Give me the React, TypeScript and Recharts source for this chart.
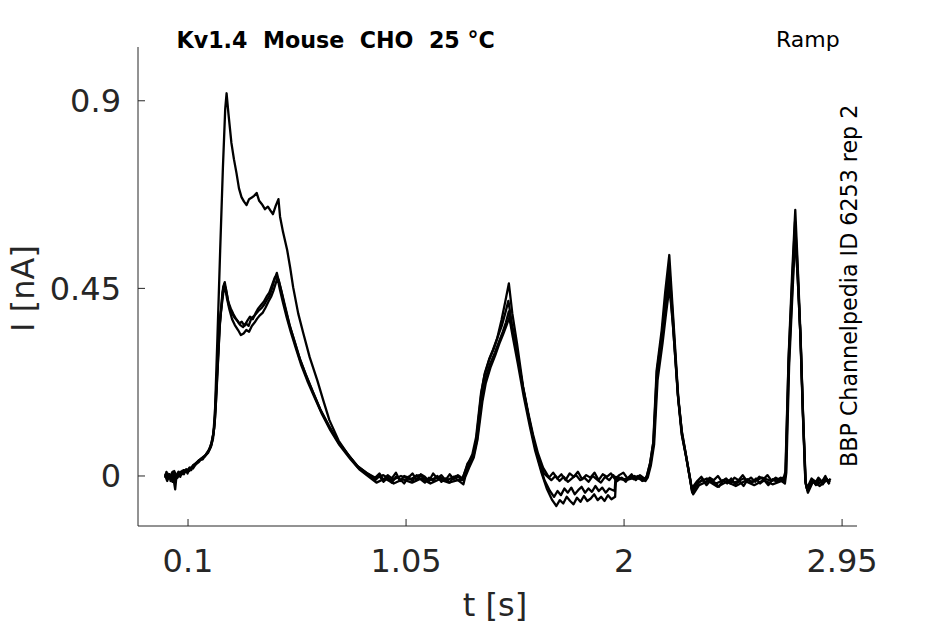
import React from "react";
import { LineChart, Line, XAxis, YAxis } from "recharts";

// Time axis ticks [s] and current axis ticks [nA]
const xTicks = [0.1, 1.05, 2, 2.95];
const yTicks = [0, 0.45, 0.9];
const xTickLabels = ["0.1", "1.05", "2", "2.95"];
const yTickLabels = ["0", "0.45", "0.9"];

// Sweep 1 (largest first response), [t (s), I (nA)]
const sweep1: [number, number][] = [
[0.000,-0.004],[0.006,0.010],[0.012,-0.006],[0.018,0.004],[0.024,-0.012],[0.030,0.008],[0.036,-0.004],[0.044,-0.032],[0.050,0.002],[0.058,0.010],[0.066,-0.002],[0.074,0.012],[0.082,0.004],[0.090,0.014],[0.098,0.006],[0.106,0.020],[0.114,0.014],[0.122,0.026],[0.132,0.030],[0.146,0.036],[0.160,0.042],[0.174,0.048],[0.188,0.056],[0.200,0.070],[0.209,0.090],[0.216,0.130],[0.228,0.330],[0.240,0.540],[0.252,0.740],[0.262,0.880],[0.268,0.918],[0.276,0.870],[0.289,0.799],[0.300,0.760],[0.311,0.727],[0.322,0.690],[0.333,0.669],[0.344,0.658],[0.355,0.650],[0.366,0.664],[0.378,0.668],[0.388,0.672],[0.399,0.679],[0.410,0.660],[0.422,0.652],[0.435,0.640],[0.448,0.646],[0.460,0.636],[0.470,0.628],[0.482,0.648],[0.494,0.664],[0.501,0.622],[0.514,0.585],[0.532,0.542],[0.545,0.500],[0.558,0.453],[0.580,0.390],[0.602,0.343],[0.630,0.285],[0.663,0.230],[0.690,0.180],[0.716,0.134],[0.756,0.085],[0.804,0.046],[0.841,0.022],[0.879,0.007],
[0.916,-0.004],[0.934,0.006],[0.952,-0.010],[0.970,0.002],[0.988,-0.006],[1.006,0.008],[1.024,-0.012],[1.042,0.000],[1.060,-0.004],[1.078,0.006],[1.096,-0.010],[1.114,0.004],[1.132,-0.002],[1.150,-0.012],[1.168,0.006],[1.186,-0.006],[1.204,0.002],[1.222,-0.010],[1.240,0.004],[1.258,-0.008],[1.276,0.002],[1.296,-0.006],
[1.303,0.004],[1.318,0.030],[1.341,0.046],[1.356,0.086],[1.378,0.198],[1.393,0.246],[1.412,0.280],[1.428,0.302],[1.447,0.330],[1.466,0.374],[1.483,0.420],[1.498,0.462],[1.513,0.390],[1.533,0.320],[1.560,0.214],[1.583,0.150],[1.603,0.100],[1.625,0.054],[1.647,0.020],
[1.673,-0.004],[1.691,0.008],[1.709,-0.006],[1.727,0.004],[1.745,-0.010],[1.763,0.006],[1.781,-0.002],[1.799,0.010],[1.817,-0.008],[1.835,0.002],[1.853,-0.004],[1.871,0.008],[1.889,-0.010],[1.907,0.004],[1.925,-0.002],[1.943,0.006],[1.961,-0.008],[1.979,0.002],[1.997,0.008],[2.015,-0.006],[2.033,0.004],[2.051,-0.010],[2.069,0.002],[2.088,-0.006],
[2.098,-0.004],[2.113,0.030],[2.127,0.079],[2.142,0.254],[2.164,0.350],[2.179,0.440],[2.197,0.530],[2.214,0.382],[2.236,0.190],[2.251,0.110],[2.266,0.062],[2.289,-0.010],[2.295,-0.030],
[2.319,-0.012],[2.337,-0.002],[2.355,-0.016],[2.373,-0.004],[2.391,-0.010],[2.409,0.000],[2.427,-0.014],[2.445,-0.006],[2.463,-0.018],[2.481,-0.004],[2.499,-0.010],[2.517,0.002],[2.535,-0.012],[2.553,-0.004],[2.571,-0.014],[2.589,-0.002],[2.607,-0.008],[2.625,0.002],[2.643,-0.012],[2.661,-0.004],[2.679,-0.010],[2.697,-0.002],
[2.703,0.010],[2.717,0.286],[2.732,0.480],[2.746,0.638],[2.757,0.500],[2.768,0.350],[2.779,0.160],[2.790,-0.010],[2.797,-0.030],
[2.817,-0.006],[2.832,-0.018],[2.847,-0.004],[2.862,-0.014],[2.877,0.000],[2.890,-0.016],[2.899,-0.006]
];

const sweep2: [number, number][] = [
[0.000,0.006],[0.010,-0.008],[0.020,0.004],[0.032,-0.014],[0.042,0.008],[0.054,-0.004],[0.066,0.010],[0.078,0.006],[0.092,0.016],[0.106,0.012],[0.120,0.024],[0.134,0.028],[0.148,0.034],[0.162,0.044],[0.176,0.050],[0.190,0.060],[0.202,0.075],[0.212,0.105],[0.218,0.140],[0.224,0.199],[0.238,0.357],[0.253,0.453],[0.260,0.465],[0.268,0.440],[0.278,0.410],[0.290,0.392],[0.302,0.380],[0.316,0.372],[0.328,0.362],[0.340,0.357],[0.352,0.366],[0.364,0.360],[0.376,0.378],[0.388,0.384],[0.399,0.391],[0.410,0.398],[0.422,0.404],[0.433,0.412],[0.443,0.422],[0.455,0.432],[0.466,0.450],[0.476,0.470],[0.487,0.487],[0.498,0.462],[0.509,0.439],[0.527,0.398],[0.545,0.357],[0.567,0.318],[0.589,0.278],[0.617,0.238],[0.646,0.199],[0.680,0.155],[0.716,0.118],[0.756,0.080],[0.804,0.046],[0.841,0.020],[0.879,0.005],
[0.916,-0.010],[0.934,0.000],[0.952,-0.014],[0.970,-0.004],[0.988,-0.016],[1.006,-0.002],[1.024,-0.008],[1.042,-0.018],[1.060,-0.002],[1.078,-0.012],[1.096,0.002],[1.114,-0.008],[1.132,-0.016],[1.150,-0.004],[1.168,-0.012],[1.186,0.000],[1.204,-0.014],[1.222,-0.006],[1.240,-0.016],[1.258,-0.002],[1.276,-0.010],[1.298,-0.010],
[1.305,-0.002],[1.323,0.024],[1.343,0.046],[1.359,0.086],[1.381,0.190],[1.395,0.232],[1.417,0.270],[1.437,0.296],[1.455,0.322],[1.471,0.345],[1.485,0.368],[1.498,0.395],[1.513,0.350],[1.535,0.290],[1.560,0.210],[1.585,0.140],[1.607,0.082],[1.629,0.036],[1.651,0.006],
[1.683,-0.010],[1.701,0.000],[1.719,-0.012],[1.737,-0.002],[1.755,-0.014],[1.773,-0.006],[1.791,0.002],[1.809,-0.010],[1.827,-0.004],[1.845,-0.014],[1.863,0.000],[1.881,-0.008],[1.899,-0.016],[1.917,-0.002],[1.935,-0.010],[1.953,0.002],[1.971,-0.012],[1.989,-0.004],[2.007,-0.014],[2.025,-0.002],[2.043,-0.008],[2.061,0.000],[2.079,-0.012],[2.090,-0.010],
[2.101,-0.002],[2.115,0.028],[2.129,0.080],[2.144,0.240],[2.166,0.330],[2.181,0.400],[2.196,0.470],[2.211,0.380],[2.234,0.196],[2.251,0.100],[2.269,0.050],[2.291,-0.020],[2.297,-0.040],
[2.323,-0.018],[2.341,-0.008],[2.359,-0.022],[2.377,-0.010],[2.395,-0.016],[2.413,-0.026],[2.431,-0.010],[2.449,-0.018],[2.467,-0.006],[2.485,-0.020],[2.503,-0.012],[2.521,-0.024],[2.539,-0.008],[2.557,-0.016],[2.575,-0.006],[2.593,-0.018],[2.611,-0.010],[2.629,-0.022],[2.647,-0.008],[2.665,-0.014],[2.683,-0.004],[2.699,-0.012],
[2.705,0.010],[2.718,0.270],[2.733,0.450],[2.745,0.590],[2.757,0.470],[2.769,0.330],[2.780,0.140],[2.791,-0.016],[2.799,-0.034],[2.821,-0.010],[2.836,-0.022],[2.851,-0.008],[2.866,-0.020],[2.881,-0.006],[2.897,-0.016]
];

const sweep3: [number, number][] = [
[0.000,-0.002],[0.011,0.006],[0.022,-0.006],[0.033,0.010],[0.044,-0.010],[0.056,0.004],[0.068,0.002],[0.080,0.014],[0.094,0.010],[0.108,0.020],[0.122,0.018],[0.136,0.030],[0.150,0.038],[0.164,0.040],[0.178,0.052],[0.192,0.064],[0.204,0.082],[0.214,0.115],[0.220,0.160],[0.227,0.240],[0.240,0.380],[0.254,0.440],[0.262,0.452],[0.270,0.425],[0.280,0.400],[0.292,0.376],[0.304,0.362],[0.318,0.350],[0.330,0.338],[0.342,0.342],[0.354,0.350],[0.366,0.346],[0.378,0.360],[0.390,0.368],[0.402,0.378],[0.414,0.386],[0.426,0.392],[0.438,0.404],[0.450,0.418],[0.462,0.430],[0.472,0.444],[0.482,0.462],[0.490,0.475],[0.500,0.448],[0.512,0.420],[0.530,0.380],[0.548,0.345],[0.570,0.306],[0.592,0.268],[0.620,0.228],[0.650,0.190],[0.684,0.148],[0.720,0.110],[0.760,0.074],[0.808,0.040],[0.846,0.016],[0.884,0.000],[0.921,-0.016],[0.958,-0.006],[0.996,-0.018],[1.036,-0.008],[1.076,-0.016],[1.116,-0.006],[1.156,-0.018],[1.196,-0.008],[1.236,-0.016],[1.276,-0.010],[1.300,-0.020],
[1.307,-0.004],[1.325,0.020],[1.345,0.044],[1.361,0.086],[1.383,0.180],[1.397,0.222],[1.419,0.262],[1.439,0.290],[1.457,0.318],[1.473,0.340],[1.487,0.360],[1.500,0.380],[1.515,0.334],[1.537,0.270],[1.563,0.190],[1.589,0.120],[1.613,0.060],[1.639,0.010],[1.663,-0.030],[1.687,-0.058],
[1.705,-0.072],[1.720,-0.058],[1.735,-0.066],[1.750,-0.050],[1.765,-0.060],[1.780,-0.068],[1.795,-0.052],[1.810,-0.062],[1.825,-0.048],[1.840,-0.060],[1.855,-0.054],[1.870,-0.044],[1.885,-0.058],[1.900,-0.050],[1.915,-0.060],[1.930,-0.046],[1.945,-0.056],[1.961,-0.050],
[1.965,-0.006],[2.007,-0.010],[2.049,-0.004],[2.093,-0.012],
[2.103,-0.004],[2.117,0.026],[2.131,0.076],[2.146,0.230],[2.168,0.320],[2.183,0.390],[2.198,0.455],[2.213,0.360],[2.237,0.180],[2.253,0.096],[2.271,0.044],[2.293,-0.024],[2.301,-0.044],[2.327,-0.022],[2.367,-0.012],[2.407,-0.026],[2.447,-0.014],[2.487,-0.024],[2.527,-0.012],[2.567,-0.022],[2.607,-0.010],[2.647,-0.020],[2.687,-0.012],[2.701,-0.018],
[2.707,0.008],[2.719,0.260],[2.734,0.440],[2.746,0.580],[2.758,0.460],[2.770,0.320],[2.781,0.130],[2.792,-0.020],[2.801,-0.040],[2.823,-0.014],[2.853,-0.024],[2.883,-0.010],[2.895,-0.020]
];

const sweep4: [number, number][] = [
[0.000,0.002],[0.009,-0.012],[0.019,0.002],[0.029,-0.006],[0.040,0.012],[0.050,-0.006],[0.062,0.006],[0.074,0.004],[0.088,0.014],[0.102,0.016],[0.116,0.020],[0.130,0.026],[0.144,0.036],[0.158,0.042],[0.172,0.046],[0.186,0.056],[0.198,0.070],[0.210,0.100],[0.217,0.150],[0.223,0.210],[0.236,0.350],[0.250,0.440],[0.258,0.460],[0.265,0.448],[0.274,0.420],[0.286,0.402],[0.298,0.388],[0.310,0.376],[0.322,0.366],[0.334,0.370],[0.346,0.360],[0.358,0.372],[0.370,0.382],[0.382,0.376],[0.394,0.390],[0.406,0.402],[0.418,0.410],[0.430,0.418],[0.442,0.430],[0.454,0.440],[0.466,0.458],[0.478,0.476],[0.485,0.480],[0.495,0.470],[0.506,0.445],[0.522,0.405],[0.540,0.366],[0.562,0.326],[0.584,0.286],[0.612,0.244],[0.642,0.204],[0.676,0.160],[0.712,0.122],[0.752,0.084],[0.800,0.050],[0.838,0.024],[0.876,0.008],[0.914,-0.006],[0.951,0.002],[0.988,-0.010],[1.028,0.000],[1.068,-0.008],[1.108,0.002],[1.148,-0.012],[1.188,-0.002],[1.228,-0.010],[1.268,0.000],[1.294,-0.008],
[1.301,0.002],[1.319,0.028],[1.339,0.052],[1.355,0.092],[1.377,0.200],[1.391,0.240],[1.413,0.280],[1.433,0.306],[1.451,0.336],[1.467,0.360],[1.482,0.390],[1.496,0.420],[1.511,0.366],[1.533,0.300],[1.558,0.218],[1.583,0.145],[1.607,0.084],[1.631,0.030],[1.653,-0.010],[1.677,-0.036],
[1.695,-0.050],[1.710,-0.036],[1.725,-0.046],[1.740,-0.030],[1.755,-0.040],[1.770,-0.028],[1.785,-0.044],[1.800,-0.034],[1.815,-0.026],[1.830,-0.040],[1.845,-0.030],[1.860,-0.038],[1.875,-0.024],[1.890,-0.036],[1.905,-0.028],[1.920,-0.040],[1.935,-0.030],[1.959,-0.036],
[1.963,-0.002],[2.005,-0.008],[2.045,0.000],[2.089,-0.008],
[2.099,0.000],[2.114,0.032],[2.128,0.082],[2.143,0.250],[2.165,0.340],[2.180,0.420],[2.197,0.500],[2.212,0.384],[2.235,0.192],[2.252,0.104],[2.268,0.056],[2.290,-0.014],[2.296,-0.036],[2.321,-0.016],[2.361,-0.006],[2.401,-0.018],[2.441,-0.008],[2.481,-0.016],[2.521,-0.006],[2.561,-0.014],[2.601,-0.004],[2.641,-0.012],[2.681,-0.006],[2.698,-0.010],
[2.704,0.012],[2.717,0.280],[2.732,0.460],[2.745,0.610],[2.757,0.490],[2.768,0.340],[2.779,0.150],[2.790,-0.014],[2.798,-0.032],[2.819,-0.008],[2.849,-0.018],[2.879,-0.006],[2.898,-0.014]
];

const sweeps = [sweep1, sweep2, sweep3, sweep4];

const toPoints = (arr: [number, number][]) => arr.map(([t, i]) => ({ t, i }));

const FONT = "'DejaVu Sans', sans-serif";
const AXIS = "#262626";

export default function App() {
  const W = 945;
  const H = 624;
  return (
    <div style={{ position: "absolute", left: 0, top: 0, width: W, height: H, background: "#fff" }}>
      <LineChart
        width={W}
        height={H}
        margin={{ top: 47, right: 88, bottom: 0, left: 0 }}
        style={{ fontFamily: FONT }}
      >
        <XAxis
          type="number"
          dataKey="t"
          domain={[-0.118, 3.015]}
          ticks={xTicks}
          tickFormatter={(v: number) => xTickLabels[xTicks.indexOf(v)] ?? String(v)}
          interval={0}
          allowDataOverflow
          height={98}
          stroke={AXIS}
          tickSize={-7}
          tickMargin={30}
          tick={{ fill: AXIS, fontSize: 32, fontFamily: FONT }}
        />
        <YAxis
          type="number"
          domain={[-0.12, 1.029]}
          ticks={yTicks}
          tickFormatter={(v: number) => yTickLabels[yTicks.indexOf(v)] ?? String(v)}
          interval={0}
          allowDataOverflow
          width={138}
          stroke={AXIS}
          tickSize={-7}
          tickMargin={24}
          tick={{ fill: AXIS, fontSize: 32, fontFamily: FONT }}
        />
        {sweeps.map((s, k) => (
          <Line
            key={k}
            data={toPoints(s)}
            dataKey="i"
            type="linear"
            stroke="#000"
            strokeWidth={2.3}
            strokeLinejoin="round"
            dot={false}
            activeDot={false}
            isAnimationActive={false}
          />
        ))}
      </LineChart>
      <svg
        width={W}
        height={H}
        style={{ position: "absolute", left: 0, top: 0, pointerEvents: "none" }}
      >
        <text x={176.5} y={48} fontFamily={FONT} fontWeight="bold" fontSize={22.2} fill="#000">
          Kv1.4{"\u00a0\u00a0"}Mouse{"\u00a0\u00a0"}CHO{"\u00a0\u00a0"}25 °C
        </text>
        <text x={776} y={47} fontFamily={FONT} fontSize={22} fill="#000">
          Ramp
        </text>
        <text
          x={857}
          y={467}
          fontFamily={FONT}
          fontSize={22.2}
          fill="#000"
          transform="rotate(-90 857 467)"
        >
          BBP Channelpedia ID 6253 rep 2
        </text>
        <text x={495} y={616} fontFamily={FONT} fontSize={32} fill={AXIS} textAnchor="middle">
          t [s]
        </text>
        <text
          x={34}
          y={288.5}
          fontFamily={FONT}
          fontSize={32}
          fill={AXIS}
          textAnchor="middle"
          transform="rotate(-90 34 288.5)"
        >
          I [nA]
        </text>
      </svg>
    </div>
  );
}
